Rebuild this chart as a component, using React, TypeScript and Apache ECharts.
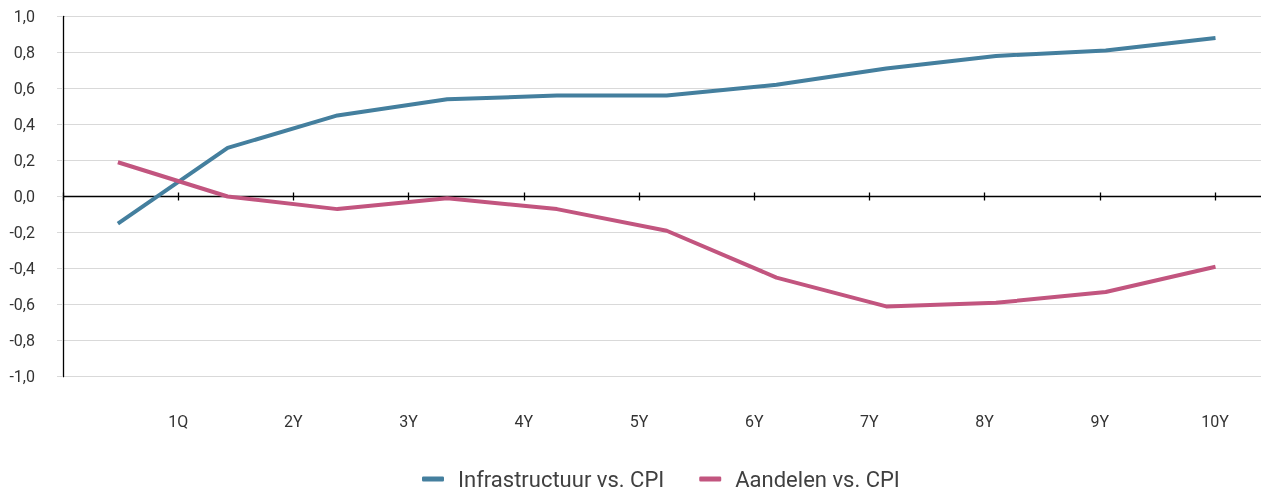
import React, { useEffect, useRef } from "react";
import * as echarts from "echarts";

const xLabels = ["1Q", "2Y", "3Y", "4Y", "5Y", "6Y", "7Y", "8Y", "9Y", "10Y"];
const infraValues = [-0.15, 0.27, 0.45, 0.54, 0.56, 0.56, 0.62, 0.71, 0.78, 0.81, 0.88];
const equityValues = [0.19, 0.0, -0.07, -0.01, -0.07, -0.19, -0.45, -0.61, -0.59, -0.53, -0.39];
const seriesNames = ["Infrastructuur vs. CPI", "Aandelen vs. CPI"];
const colors = ["#447f9e", "#c2557f"];

const FONT = "Roboto, 'Noto Sans', sans-serif";

export default function App() {
  const ref = useRef<HTMLDivElement>(null);
  useEffect(() => {
    if (!ref.current) return;
    const chart = echarts.init(ref.current, undefined, { renderer: "svg" });
    const baseX = { type: "value", min: 0, max: 11, interval: 1, gridIndex: 0, splitLine: { show: false } };
    chart.setOption({
      animation: false,
      textStyle: { fontFamily: FONT },
      grid: { left: 63, right: -69.2, top: 16.3, bottom: 113.3, outerBoundsMode: "none", containLabel: false },
      legend: {
        left: 417,
        top: 464,
        padding: [4, 5, 0, 5],
        icon: "roundRect",
        itemWidth: 22,
        itemHeight: 5,
        itemGap: 35,
        data: seriesNames,
        textStyle: { fontFamily: FONT, fontSize: 22, lineHeight: 18, color: "#404040", padding: [0, 0, 0, 9] },
      },
      xAxis: [
        {
          ...baseX,
          position: "bottom",
          axisLine: { show: true, onZero: true, onZeroAxisIndex: 0, lineStyle: { color: "#000", width: 1.3 } },
          axisTick: { show: true, inside: false, length: 4, lineStyle: { color: "#000", width: 1.3 } },
          axisLabel: { show: false },
        },
        {
          ...baseX,
          position: "bottom",
          axisLine: { show: true, onZero: true, onZeroAxisIndex: 0, lineStyle: { color: "#000", opacity: 0, width: 1 } },
          axisTick: { show: true, inside: true, length: 4, lineStyle: { color: "#000", width: 1.3 } },
          axisLabel: { show: false },
        },
        {
          ...baseX,
          position: "bottom",
          axisLine: { show: false, onZero: false },
          axisTick: { show: false },
          axisLabel: {
            show: true,
            margin: 37,
            fontSize: 16,
            fontFamily: FONT,
            color: "#333",
            formatter: (v: number) => xLabels[v - 1] ?? "",
          },
        },
        { type: "value", min: -0.5, max: 11.045, show: false, gridIndex: 0 },
      ],
      yAxis: {
        type: "value",
        min: -1,
        max: 1,
        interval: 0.2,
        axisLine: { show: true, lineStyle: { color: "#000", width: 1.3 } },
        axisTick: { show: true, length: 6, lineStyle: { color: "#d9d9d9" } },
        splitLine: { show: true, lineStyle: { color: "#d9d9d9", width: 1 } },
        axisLabel: {
          margin: 28,
          fontSize: 16,
          fontFamily: FONT,
          color: "#333",
          formatter: (v: number) => v.toFixed(1).replace(".", ","),
        },
      },
      series: [
        {
          name: seriesNames[0],
          type: "line",
          xAxisIndex: 3,
          symbol: "none",
          lineStyle: { width: 4, color: colors[0] },
          itemStyle: { color: colors[0] },
          data: infraValues.map((v, i) => [i, v]),
        },
        {
          name: seriesNames[1],
          type: "line",
          xAxisIndex: 3,
          symbol: "none",
          lineStyle: { width: 4, color: colors[1] },
          itemStyle: { color: colors[1] },
          data: equityValues.map((v, i) => [i, v]),
        },
      ],
    });
    return () => chart.dispose();
  }, []);
  return (
    <div
      ref={ref}
      style={{ position: "fixed", left: 0, top: 0, width: 1261, height: 490 }}
    />
  );
}
